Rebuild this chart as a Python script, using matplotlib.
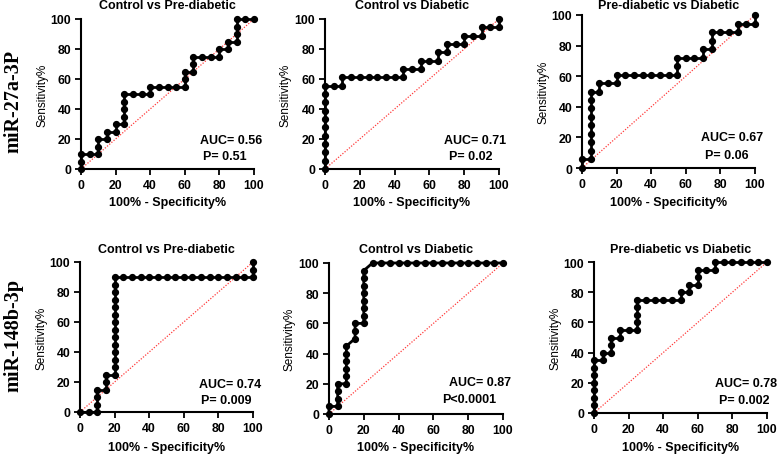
import matplotlib
matplotlib.use("Agg")
import matplotlib.pyplot as plt

plt.rcParams["font.family"] = ["Liberation Sans", "DejaVu Sans"]

# ---- data ----
# miR-27a-3P, Control vs Pre-diabetic
x_27a_cp = [0, 0, 0, 5, 10, 10, 10, 15, 15, 20, 20, 25, 25, 25, 25, 25, 30, 35, 40, 40, 45,
            50, 55, 60, 60, 60, 65, 65, 65, 70, 75, 80, 80, 85, 85, 90, 90, 90, 90, 95, 100]
y_27a_cp = [0, 5, 10, 10, 10, 15, 20, 20, 25, 25, 30, 30, 35, 40, 45, 50, 50, 50, 50, 55, 55,
            55, 55, 55, 60, 65, 65, 70, 75, 75, 75, 75, 80, 80, 85, 85, 90, 95, 100, 100, 100]

# miR-27a-3P, Control vs Diabetic
x_27a_cd = [0, 0, 0, 0, 0, 0, 0, 0, 0, 0, 0, 5, 10, 10, 15, 20, 25, 30, 35, 40, 45, 45, 50,
            55, 55, 60, 65, 65, 70, 70, 75, 80, 80, 85, 90, 90, 95, 100, 100]
y_27a_cd = [0, 5.6, 11.1, 16.7, 22.2, 27.8, 33.3, 38.9, 44.4, 50, 55.6, 55.6, 55.6, 61.1,
            61.1, 61.1, 61.1, 61.1, 61.1, 61.1, 61.1, 66.7, 66.7, 66.7, 72.2, 72.2, 72.2,
            77.8, 77.8, 83.3, 83.3, 83.3, 88.9, 88.9, 88.9, 94.4, 94.4, 94.4, 100]

# miR-27a-3P, Pre-diabetic vs Diabetic
x_27a_pd = [0, 0, 5, 5, 5, 5, 5, 5, 5, 5, 5, 10, 10, 15, 20, 20, 25, 30, 35, 40, 45, 50, 55,
            55, 55, 60, 65, 70, 70, 75, 75, 75, 80, 85, 90, 90, 95, 100, 100]
y_27a_pd = [0, 5.6, 5.6, 11.1, 16.7, 22.2, 27.8, 33.3, 38.9, 44.4, 50, 50, 55.6, 55.6, 55.6,
            61.1, 61.1, 61.1, 61.1, 61.1, 61.1, 61.1, 61.1, 66.7, 72.2, 72.2, 72.2, 72.2,
            77.8, 77.8, 83.3, 88.9, 88.9, 88.9, 88.9, 94.4, 94.4, 94.4, 100]

# miR-148b-3p, Control vs Pre-diabetic
x_148b_cp = [0, 5, 10, 10, 10, 10, 15, 15, 15, 20, 20, 20, 20, 20, 20, 20, 20, 20, 20, 20,
             20, 20, 20, 25, 30, 35, 40, 45, 50, 55, 60, 65, 70, 75, 80, 85, 90, 95, 100,
             100, 100]
y_148b_cp = [0, 0, 0, 5, 10, 15, 15, 20, 25, 25, 30, 35, 40, 45, 50, 55, 60, 65, 70, 75, 80,
             85, 90, 90, 90, 90, 90, 90, 90, 90, 90, 90, 90, 90, 90, 90, 90, 90, 90, 95, 100]

# miR-148b-3p, Control vs Diabetic
x_148b_cd = [0, 0, 5, 5, 5, 5, 10, 10, 10, 10, 10, 10, 15, 15, 15, 20, 20, 20, 20, 20, 20,
             20, 20, 25, 30, 35, 40, 45, 50, 55, 60, 65, 70, 75, 80, 85, 90, 95, 100]
y_148b_cd = [0, 5, 5, 10, 15, 20, 20, 25, 30, 35, 40, 45, 50, 55, 60, 60, 65, 70, 75, 80, 85,
             90, 95, 100, 100, 100, 100, 100, 100, 100, 100, 100, 100, 100, 100, 100, 100,
             100, 100]

# miR-148b-3p, Pre-diabetic vs Diabetic
x_148b_pd = [0, 0, 0, 0, 0, 0, 0, 0, 5, 5, 10, 10, 10, 15, 15, 20, 25, 25, 25, 25, 25, 30,
             35, 40, 45, 50, 50, 55, 55, 60, 60, 60, 65, 70, 70, 75, 80, 85, 90, 95, 100]
y_148b_pd = [0, 5, 10, 15, 20, 25, 30, 35, 35, 40, 40, 45, 50, 50, 55, 55, 55, 60, 65, 70,
             75, 75, 75, 75, 75, 75, 80, 80, 85, 85, 90, 95, 95, 95, 100, 100, 100, 100, 100,
             100, 100]

titles = ["Control vs Pre-diabetic", "Control vs Diabetic", "Pre-diabetic vs Diabetic"]
row_labels = ["miR-27a-3P", "miR-148b-3p"]
auc_labels = ["AUC= 0.56", "AUC= 0.71", "AUC= 0.67", "AUC= 0.74", "AUC= 0.87", "AUC= 0.78"]
p_labels = ["P= 0.51", "P= 0.02", "P= 0.06", "P= 0.009", "P<0.0001", "P= 0.002"]

curves = [(x_27a_cp, y_27a_cp), (x_27a_cd, y_27a_cd), (x_27a_pd, y_27a_pd),
          (x_148b_cp, y_148b_cp), (x_148b_cd, y_148b_cd), (x_148b_pd, y_148b_pd)]

# ---- layout (pixel boxes: left, right, top, bottom) ----
W, H = 777, 456
boxes = [(81, 254, 20, 170), (325, 499, 20, 170), (582, 755, 16, 169),
         (80, 253, 263, 413), (329, 503, 264, 415), (594, 767, 263, 414)]
title_y = [6, 6, 6, 250, 250, 250]        # title centre, pixels from top
xlabel_y = [203, 203, 203, 448, 448, 448]
auc_pos = [(69, 19.3), (68.4, 19.3), (68.8, 20), (69, 18.7), (69, 21), (70, 20)]
p_pos = [(70.5, 8.7), (71, 8.7), (71, 8.5), (70, 8), (65, 10), (72, 8.6)]

fig = plt.figure(figsize=(W / 100, H / 100), dpi=100)

for i, (l, r, t, b) in enumerate(boxes):
    ax = fig.add_axes([l / W, 1 - b / H, (r - l) / W, (b - t) / H])
    xs, ys = curves[i]
    ax.plot([0, 100], [0, 100], color="#ff3b3b", ls=(0, (1, 1.3)), lw=0.9, zorder=1)
    ax.plot(xs, ys, color="black", lw=2, marker="o", ms=4.2, clip_on=False, zorder=3)
    ax.set_xlim(0, 100)
    ax.set_ylim(0, 100)
    ax.set_xticks(range(0, 101, 20))
    ax.set_yticks(range(0, 101, 20))
    ax.spines[["top", "right"]].set_visible(False)
    ax.spines[["left", "bottom"]].set_linewidth(1.5)
    ax.tick_params(length=4, width=1.3, pad=3, labelsize=8.8)
    for lab in ax.get_xticklabels() + ax.get_yticklabels():
        lab.set_fontweight("bold")
    h = b - t
    ax.set_title(titles[i % 3], fontsize=9, fontweight="bold", pad=0,
                 y=(b - title_y[i]) / h, va="center")
    ax.set_xlabel("100% - Specificity%", fontsize=9, fontweight="bold", va="center")
    ax.xaxis.set_label_coords(0.5, -(xlabel_y[i] - b) / h)
    ax.set_ylabel("Sensitivity%", fontsize=8.5, va="center")
    ax.yaxis.set_label_coords(-39 / (r - l), 0.5)
    ax.text(*auc_pos[i], auc_labels[i], fontsize=9, fontweight="bold", va="center")
    ax.text(*p_pos[i], p_labels[i], fontsize=9, fontweight="bold", va="center")

fig.text(13 / W, 1 - 101 / H, row_labels[0], rotation=90, ha="center", va="center",
         family="Liberation Serif", fontweight="bold", fontsize=14.5)
fig.text(13 / W, 1 - 335 / H, row_labels[1], rotation=90, ha="center", va="center",
         family="Liberation Serif", fontweight="bold", fontsize=14.5)

fig.savefig("out.png", dpi=100)
